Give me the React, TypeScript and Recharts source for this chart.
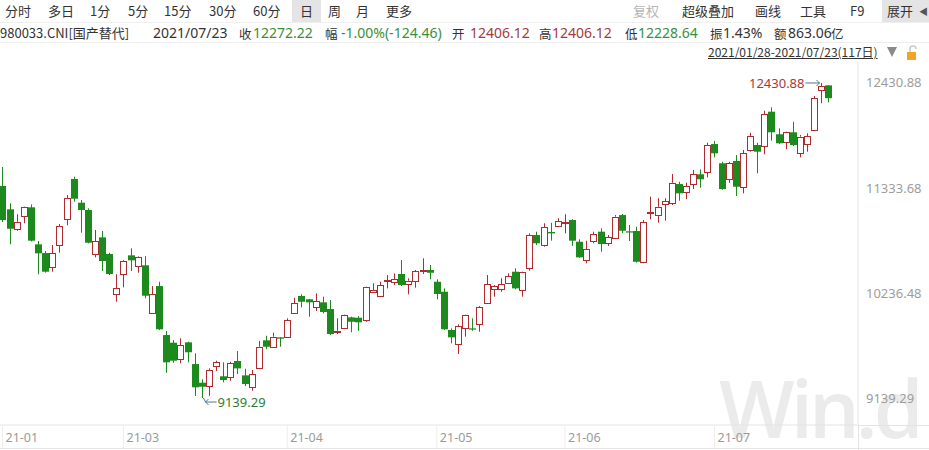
import React from 'react';
import { ComposedChart, Bar, XAxis, YAxis } from 'recharts';

const openP = [
  11355, 11111, 10905, 11041, 11132, 10745, 10654, 10505, 10738, 11007,
  11428, 11180, 11104, 10641, 10818, 10644, 10223, 10432, 10630, 10526,
  10526, 10027, 10309, 9797, 9717, 9544, 9721, 9494, 9299, 9268,
  9466, 9366, 9355, 9526, 9376, 9247, 9460, 9742, 9675, 9773,
  9780, 10024, 10205, 10171, 10093, 10139, 10069, 9832, 9867, 9982,
  9978, 9947, 10250, 10208, 10365, 10344, 10435, 10338, 10365, 10469,
  10477, 10354, 10250, 9850, 9700, 9867, 9867, 9912, 10129, 10275,
  10278, 10338, 10459, 10268, 10494, 10842, 10738, 10874, 10940, 10971,
  10999, 10772, 10574, 10783, 10877, 10756, 10818, 11051, 10881, 10884,
  10553, 11069, 11051, 11166, 11180, 11375, 11289, 11372, 11477, 11504,
  11793, 11592, 11425, 11616, 11341, 11731, 11783, 11772, 12131, 11895,
  11807, 11916, 11707, 11793, 11940, 12350, 12406.12,
];
const highP = [
  11553, 11174, 11059, 11138, 11163, 10780, 10675, 10738, 10957, 11260,
  11452, 11208, 11121, 10895, 10884, 10657, 10432, 10580, 10703, 10622,
  10622, 10309, 10354, 9839, 9745, 9763, 9727, 9606, 9335, 9449,
  9529, 9512, 9518, 9630, 9445, 9432, 9735, 9790, 9821, 9775,
  9972, 10187, 10223, 10173, 10233, 10198, 10163, 9972, 10010, 9989,
  9996, 10302, 10338, 10354, 10424, 10442, 10581, 10390, 10477, 10599,
  10529, 10380, 10285, 9867, 9909, 10010, 9972, 10100, 10424, 10320,
  10390, 10442, 10494, 10462, 10860, 10877, 10965, 10971, 11017, 11059,
  11007, 10798, 10783, 10877, 10912, 10842, 11051, 11062, 10947, 10929,
  10999, 11243, 11226, 11226, 11480, 11399, 11389, 11522, 11529, 11807,
  11825, 11608, 11608, 11678, 11731, 11911, 11807, 12141, 12177, 11957,
  11922, 12026, 11887, 11905, 12295, 12430.88, 12406.12,
];
const lowP = [
  10978, 10745, 10887, 10965, 10775, 10432, 10450, 10459, 10657, 10944,
  11190, 10866, 10755, 10609, 10466, 10424, 10145, 10296, 10466, 10448,
  10181, 10020, 9850, 9403, 9508, 9502, 9512, 9160, 9139.29, 9163,
  9421, 9303, 9320, 9390, 9264, 9215, 9455, 9651, 9669, 9675,
  9775, 10020, 10087, 9989, 10048, 10024, 9797, 9808, 9860, 9826,
  9842, 9936, 10239, 10198, 10285, 10320, 10309, 10223, 10292, 10435,
  10380, 10171, 9850, 9711, 9599, 9780, 9842, 9832, 10125, 10198,
  10250, 10335, 10275, 10198, 10469, 10738, 10720, 10783, 10929, 10860,
  10728, 10605, 10547, 10756, 10668, 10728, 10808, 10860, 10780, 10555,
  10548, 11007, 10971, 10992, 11156, 11201, 11216, 11323, 11337, 11445,
  11654, 11315, 11389, 11250, 11278, 11713, 11487, 11686, 11828, 11793,
  11738, 11772, 11654, 11713, 11932, 12219, 12228.64,
];
const closeP = [
  10999, 10908, 10981, 11132, 10783, 10651, 10459, 10651, 10936, 11226,
  11222, 11104, 10762, 10780, 10571, 10435, 10289, 10571, 10578, 10616,
  10208, 10223, 9857, 9512, 9529, 9693, 9617, 9251, 9257, 9432,
  9512, 9327, 9502, 9449, 9285, 9387, 9675, 9675, 9780, 9759,
  9954, 10129, 10145, 10139, 10153, 10038, 9808, 9842, 10006, 9936,
  9930, 10296, 10268, 10320, 10372, 10380, 10320, 10365, 10466, 10477,
  10448, 10226, 9857, 9773, 9891, 10006, 9857, 10087, 10327, 10309,
  10330, 10414, 10285, 10459, 10842, 10756, 10923, 10860, 10989, 10975,
  10783, 10609, 10693, 10853, 10748, 10818, 11034, 10887, 10870, 10563,
  10975, 11080, 11138, 11198, 11389, 11278, 11355, 11477, 11425, 11783,
  11696, 11323, 11592, 11347, 11696, 11877, 11713, 12107, 11916, 11801,
  11916, 11783, 11870, 11877, 12271, 12396.68, 12272.22,
];

const xTickIndex = [0, 17, 40, 61, 79, 100];
const xTickLabels = ['21-01', '21-03', '21-04', '21-05', '21-06', '21-07'];
const yTicks = [9139.29, 10236.48, 11333.68, 12430.88];

const data = openP.map((o, i) => ({
  idx: i,
  open: o,
  high: highP[i],
  low: lowP[i],
  close: closeP[i],
}));
const maxHigh = Math.max(...highP);
const minLow = Math.min(...lowP);

const RED = '#b02a2e';
const GREEN = '#1d8a1d';
const ARROW = '#4f7490';

const Candle = (props: any) => {
  const { x, y, width, height, payload } = props;
  if (x == null || payload == null) return null;
  const top = Math.min(y, y + height);
  const bot = Math.max(y, y + height);
  const { open, high, low, close } = payload;
  const k = high > low ? (bot - top) / (high - low) : 0;
  const yv = (v: number) => top + (high - v) * k;
  const cx = Math.round(x + width / 2) + 0.5;
  const up = close >= open;
  const bTop = yv(Math.max(open, close));
  const bBot = yv(Math.min(open, close));
  const els: any[] = [];
  if (up) {
    els.push(<line key="w1" x1={cx} x2={cx} y1={top} y2={bTop} stroke={RED} strokeWidth={1} />);
    els.push(<line key="w2" x1={cx} x2={cx} y1={bBot} y2={bot} stroke={RED} strokeWidth={1} />);
    els.push(
      <rect key="b" x={cx - 3} y={Math.round(bTop) + 0.5} width={6} height={Math.max(Math.round(bBot - bTop), 1)} fill="#fff" stroke={RED} strokeWidth={1} />
    );
  } else {
    els.push(<line key="w" x1={cx} x2={cx} y1={top} y2={bot} stroke={GREEN} strokeWidth={1} />);
    els.push(
      <rect key="b" x={cx - 3.5} y={bTop} width={7} height={Math.max(bBot - bTop, 1.2)} fill={GREEN} />
    );
  }
  if (high === maxHigh) {
    els.push(
      <g key="mx">
        <line x1={cx - 16} x2={cx - 2} y1={top} y2={top} stroke={ARROW} strokeWidth={1} />
        <polyline points={`${cx - 5},${top - 3} ${cx - 2},${top} ${cx - 5},${top + 3}`} fill="none" stroke={ARROW} strokeWidth={1} />
        <text x={cx - 17} y={top + 5} textAnchor="end" fontSize={13} fill="#a8383a" fontFamily="'Noto Sans', sans-serif">
          {high.toFixed(2)}
        </text>
      </g>
    );
  }
  if (low === minLow) {
    els.push(
      <g key="mn">
        <polyline points={`${cx + 1},${bot} ${cx + 3},${bot + 4} ${cx + 14},${bot + 4}`} fill="none" stroke={ARROW} strokeWidth={1} />
        <polyline points={`${cx + 6},${bot + 1} ${cx + 3},${bot + 4} ${cx + 6},${bot + 7}`} fill="none" stroke={ARROW} strokeWidth={1} />
        <text x={cx + 15} y={bot + 9} textAnchor="start" fontSize={13} fill="#2f7d32" fontFamily="'Noto Sans', sans-serif">
          {low.toFixed(2)}
        </text>
      </g>
    );
  }
  return <g>{els}</g>;
};

const XTick = (props: any) => {
  const { x, y, payload } = props;
  const i = xTickIndex.indexOf(payload.value);
  return (
    <g>
      <line x1={x} x2={x} y1={y} y2={y + 23} stroke="#eeeeee" strokeWidth={1} />
      <text x={x + 3} y={y + 17} textAnchor="start" fontSize={12.5} fill="#9a9a9a" fontFamily="'Noto Sans', sans-serif">
        {i >= 0 ? xTickLabels[i] : ''}
      </text>
    </g>
  );
};

const YTick = (props: any) => {
  const { x, y, payload } = props;
  return (
    <text x={x + 8} y={y + 4.5} textAnchor="start" fontSize={13} fill="#9d9d9d" fontFamily="'Noto Sans', sans-serif">
      {Number(payload.value).toFixed(2)}
    </text>
  );
};

const cjk = "'Noto Sans CJK SC', 'Noto Sans', sans-serif";
const latin = "'Noto Sans', sans-serif";
const abs = (left: number, top: number, extra: any = {}) => ({
  position: 'absolute' as const,
  left,
  top,
  whiteSpace: 'nowrap' as const,
  ...extra,
});

const tabs: [string, number][] = [
  ['分时', 5], ['多日', 48], ['1分', 90], ['5分', 128], ['15分', 164], ['30分', 209],
  ['60分', 253], ['日', 300], ['周', 328], ['月', 356], ['更多', 386],
];
const tools: [string, number, string][] = [
  ['复权', 633, '#b5b5b5'], ['超级叠加', 682, '#333'], ['画线', 755, '#333'], ['工具', 800, '#333'], ['F9', 850, '#333'],
];

const lab = (t: string, l: number) => (
  <span key={t + l} style={abs(l, 25, { fontSize: 12.5, lineHeight: '18px' })}>{t}</span>
);
const num = (t: string, l: number, c: string) => (
  <span key={t + l} style={abs(l, 24, { fontSize: 14, lineHeight: '18px', fontFamily: latin, color: c })}>{t}</span>
);

export default function App() {
  return (
    <div style={{ position: 'absolute', left: 0, top: 0, width: 929, height: 450, background: '#fff', overflow: 'hidden', fontFamily: cjk, color: '#333' }}>
      {/* toolbar */}
      <div style={abs(292, 0, { width: 29, height: 22, background: '#e4e4e4' })} />
      <div style={abs(882, 0, { width: 47, height: 22, background: '#e4e4e4' })} />
      {tabs.map(([t, l]) => (
        <span key={t} style={abs(l, 2, { fontSize: 13, lineHeight: '18px' })}>{t}</span>
      ))}
      {tools.map(([t, l, c]) => (
        <span key={t} style={abs(l, 2, { fontSize: 13, lineHeight: '18px', color: c })}>{t}</span>
      ))}
      <span style={abs(887, 2, { fontSize: 13, lineHeight: '18px' })}>展开</span>
      <span style={abs(919, 3, { fontSize: 9, lineHeight: '18px', color: '#555' })}>◀</span>
      <div style={abs(0, 22, { width: 929, height: 1, background: '#efefef' })} />
      {/* info row */}
      <span style={abs(0, 24, { fontSize: 13, lineHeight: '18px' })}>980033.CNI[国产替代]</span>
      {num('2021/07/23', 153, '#333')}
      {lab('收', 239)}
      {num('12272.22', 253, '#3a8f3a')}
      {lab('幅', 325)}
      {num('-1.00%(-124.46)', 341, '#3a8f3a')}
      {lab('开', 452)}
      {num('12406.12', 470, '#a8383a')}
      {lab('高', 539)}
      {num('12406.12', 552, '#a8383a')}
      {lab('低', 625)}
      {num('12228.64', 638, '#3a8f3a')}
      {lab('振', 710)}
      {num('1.43%', 723, '#333')}
      {lab('额', 774)}
      {num('863.06', 788, '#333')}
      {lab('亿', 831)}
      <div style={abs(0, 42, { width: 929, height: 1, background: '#eeeeee' })} />
      {/* range row */}
      <span style={abs(708, 44, { fontSize: 12, lineHeight: '16px', textDecoration: 'underline', color: '#333' })}>2021/01/28-2021/07/23(117日)</span>
      <svg style={abs(886, 44)} width={43} height={18}>
        <polygon points="1,3 11,3 6,13" fill="#8a8a8a" />
        <path d="M24 8 V5 a3 3 0 0 1 6 0" fill="none" stroke="#c8c8c8" strokeWidth={1.5} />
        <rect x={21} y={8} width={9} height={8} fill="#f0a526" />
      </svg>
      {/* watermark */}
      <div style={abs(719, 367, { fontSize: 80, fontWeight: 600, color: '#ebebeb', fontFamily: "'Open Sans', sans-serif", letterSpacing: -4, lineHeight: '80px' })}>Win.d</div>
      {/* frame lines */}
      <div style={abs(858, 425, { width: 1, height: 25, background: '#e3e3e3' })} />
      <div style={abs(858, 425, { width: 71, height: 1, background: '#e3e3e3' })} />
      <div style={abs(0, 448, { width: 929, height: 1, background: '#e6e6e6' })} />
      <div style={abs(0, 0)}>
        <ComposedChart width={929} height={450} data={data} margin={{ top: 62, right: 0, bottom: 0, left: 0 }}>
          <XAxis
            type="number"
            dataKey="idx"
            domain={[-0.35, 120.15]}
            allowDataOverflow
            ticks={xTickIndex}
            interval={0}
            tick={<XTick />}
            tickLine={false}
            tickSize={0}
            tickMargin={0}
            axisLine={{ stroke: '#e3e3e3' }}
            height={25}
          />
          <YAxis
            orientation="right"
            width={71}
            domain={[8857.2, 12650.3]}
            allowDataOverflow
            ticks={yTicks}
            interval={0}
            tick={<YTick />}
            tickLine={false}
            tickSize={0}
            tickMargin={0}
            axisLine={{ stroke: '#e3e3e3' }}
          />
          <Bar dataKey={(d: any) => [d.low, d.high]} barSize={7} isAnimationActive={false} shape={<Candle />} />
        </ComposedChart>
      </div>
    </div>
  );
}
